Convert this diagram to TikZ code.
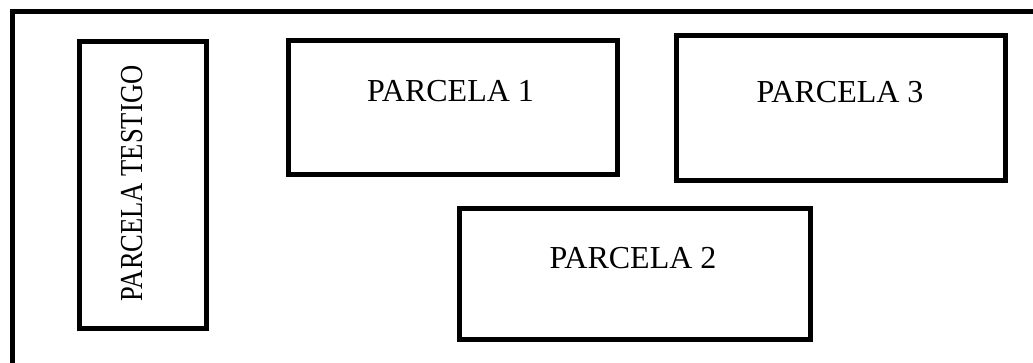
\documentclass[tikz,border=0pt]{standalone}
\usepackage{fontspec}
\setmainfont{Liberation Serif}
\begin{document}
\begin{tikzpicture}[x=1pt,y=-1pt,
  plot/.style={draw, line width=5pt, inner sep=0pt, outer sep=0pt, anchor=north west},
  lbl/.style={inner sep=0pt, anchor=base, font=\fontsize{32}{32}\selectfont}]
\useasboundingbox (0,0) rectangle (1033,362);
\clip (0,0) rectangle (1033,362);
\node[draw, line width=5pt, inner sep=0pt, anchor=north west, minimum width=1100pt, minimum height=400pt] (outer) at (10,9) {};
\node[plot, minimum width=127pt, minimum height=287.5pt] (testigo) at (79.5,41) {};
\node[plot, minimum width=328.5pt, minimum height=134pt] (p1) at (288.5,40.5) {};
\node[plot, minimum width=329pt, minimum height=145pt] (p3) at (676,35.5) {};
\node[plot, minimum width=351pt, minimum height=131pt] (p2) at (459,208.5) {};
\node[lbl, rotate=90] (ttestigo) at (142,183.5) {\scalebox{0.83}[1]{PARCELA TESTIGO}};
\node[lbl] (tp1) at (450.5,101.7) {PARCELA 1};
\node[lbl] (tp3) at (840,102.5) {PARCELA 3};
\node[lbl] (tp2) at (633,268) {PARCELA 2};
\end{tikzpicture}
\end{document}
